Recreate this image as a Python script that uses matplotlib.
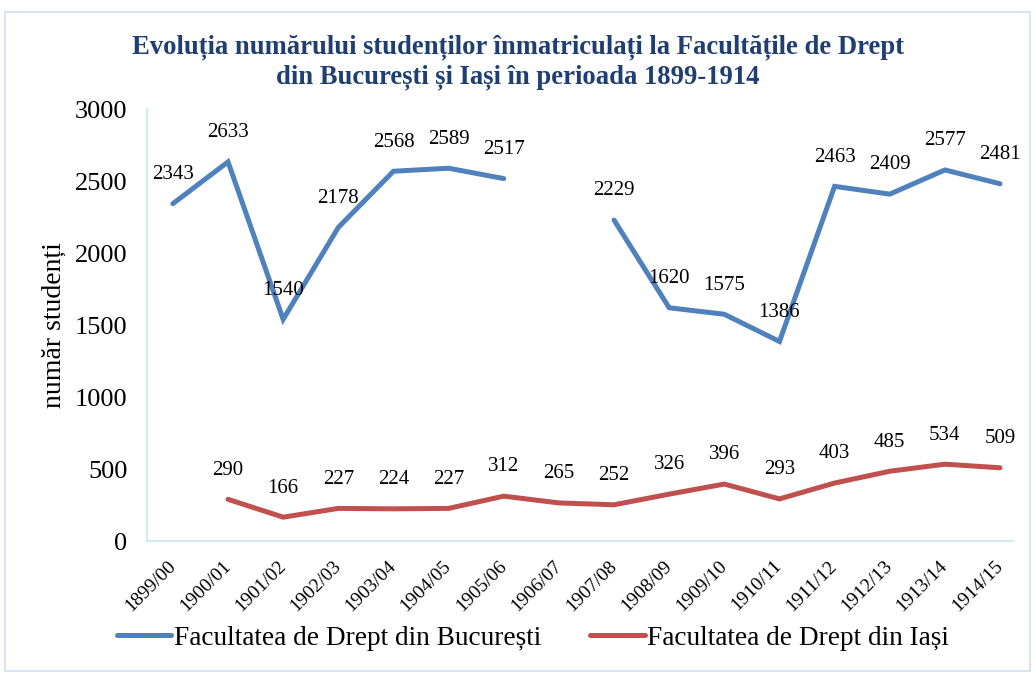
import numpy as np
import matplotlib
matplotlib.use("Agg")
import matplotlib.pyplot as plt
from matplotlib.patches import Rectangle

years = ["1899/00", "1900/01", "1901/02", "1902/03", "1903/04", "1904/05",
         "1905/06", "1906/07", "1907/08", "1908/09", "1909/10", "1910/11",
         "1911/12", "1912/13", "1913/14", "1914/15"]
bucuresti = [2343, 2633, 1540, 2178, 2568, 2589, 2517, np.nan, 2229, 1620,
             1575, 1386, 2463, 2409, 2577, 2481]
iasi = [np.nan, 290, 166, 227, 224, 227, 312, 265, 252, 326, 396, 293,
        403, 485, 534, 509]
series_names = ["Facultatea de Drept din București", "Facultatea de Drept din Iași"]
title = ("Evoluția numărului studenților înmatriculați la Facultățile de Drept\n"
         "din București și Iași în perioada 1899-1914")
ylabel = "număr studenți"
yticks = [0, 500, 1000, 1500, 2000, 2500, 3000]

plt.rcParams['font.family'] = ['Liberation Serif', 'DejaVu Serif']

fig = plt.figure(figsize=(10.35, 6.73), dpi=100)
ax = fig.add_axes([0.142, 0.196, 0.837, 0.642])

x = np.arange(len(years))
blue = '#4F81BD'
red = '#C0504D'
l1, = ax.plot(x, bucuresti, color=blue, lw=3.6, solid_capstyle='round',
              solid_joinstyle='miter', label=series_names[0])
l2, = ax.plot(x, iasi, color=red, lw=3.6, solid_capstyle='round',
              solid_joinstyle='miter', label=series_names[1])

for xi, v in zip(x, bucuresti):
    if not np.isnan(v):
        ax.annotate(f"{int(v)}", (xi, v), xytext=(0, 21), textcoords='offset points',
                    ha='center', va='center', fontsize=15, color='black')
for xi, v in zip(x, iasi):
    if not np.isnan(v):
        ax.annotate(f"{int(v)}", (xi, v), xytext=(0, 21), textcoords='offset points',
                    ha='center', va='center', fontsize=15, color='black')

ax.set_xlim(-0.47, 15.24)
ax.set_ylim(0, 3000)
ax.set_yticks(yticks)
ax.set_yticklabels([str(t) for t in yticks], fontsize=19)
ax.set_xticks(x)
ax.set_xticklabels(years, rotation=45, ha='right', va='center',
                   rotation_mode='anchor', fontsize=14)
ax.tick_params(axis='both', length=0)
ax.tick_params(axis='x', pad=16)
ax.tick_params(axis='y', pad=14)

for s in ['top', 'right']:
    ax.spines[s].set_visible(False)
for s in ['left', 'bottom']:
    ax.spines[s].set_color('#D5EAF3')
    ax.spines[s].set_linewidth(1.5)

ax.set_ylabel(ylabel, fontsize=20, labelpad=6)

fig.text(0.5, 0.908, title, ha='center', va='center', fontsize=19.2,
         fontweight='bold', color='#1F3F73', linespacing=1.25)

leg = fig.legend(handles=[l1, l2], loc='center', bbox_to_anchor=(0.515, 0.052),
                 ncol=2, frameon=False, fontsize=19.6, handlelength=2.0,
                 handletextpad=0.1, columnspacing=1.8)

fig.patches.append(Rectangle((0.005, 0.003), 0.99, 0.979, transform=fig.transFigure,
                             fill=False, edgecolor='#D9E3F1', lw=1.5))

fig.savefig('out.png', dpi=100)
